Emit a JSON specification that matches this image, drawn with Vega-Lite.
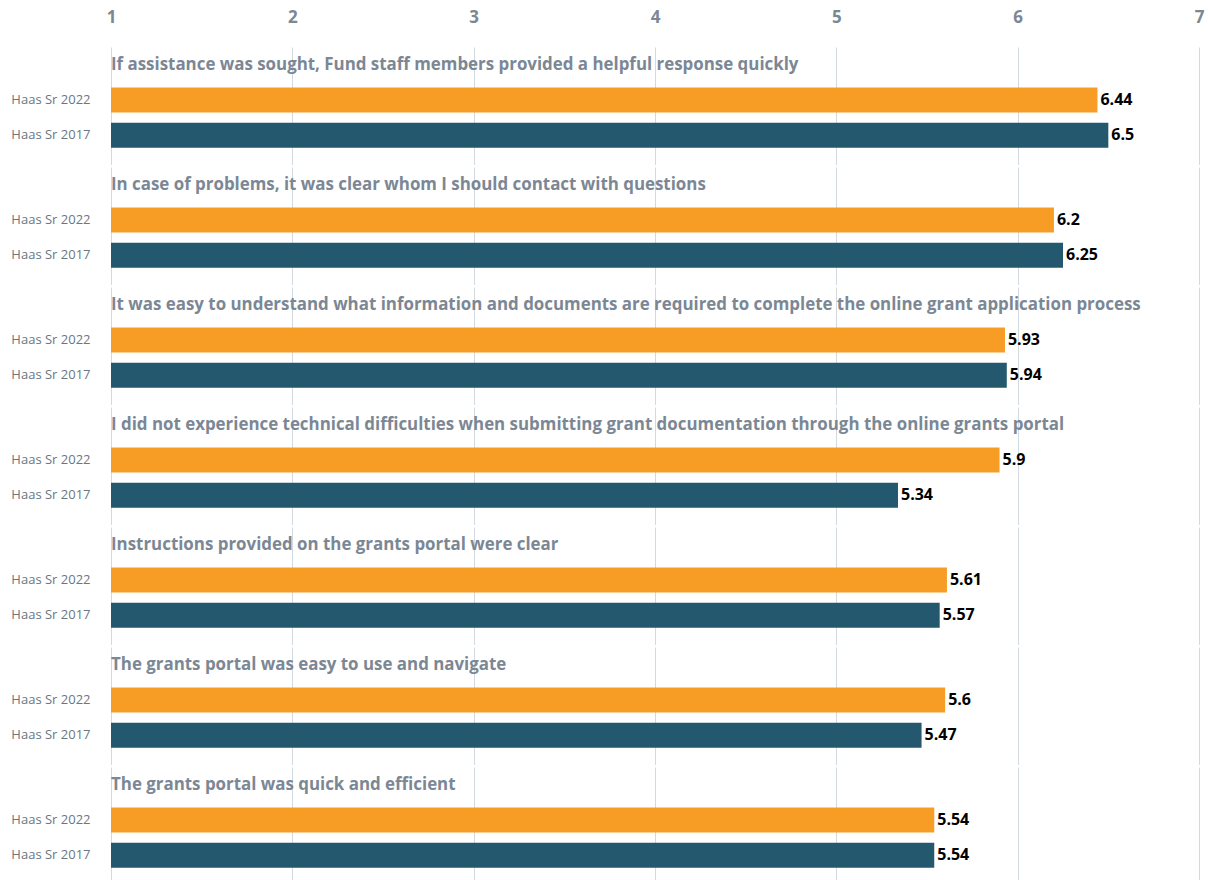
{
  "$schema": "https://vega.github.io/schema/vega-lite/v6.json",
  "padding": {"left": 10, "top": 8, "right": 5, "bottom": 0},
  "background": "white",
  "data": {
    "values": [
      {"order": 1, "question": "If assistance was sought, Fund staff members provided a helpful response quickly", "year": "Haas Sr 2022", "value": 6.44},
      {"order": 1, "question": "If assistance was sought, Fund staff members provided a helpful response quickly", "year": "Haas Sr 2017", "value": 6.5},
      {"order": 2, "question": "In case of problems, it was clear whom I should contact with questions", "year": "Haas Sr 2022", "value": 6.2},
      {"order": 2, "question": "In case of problems, it was clear whom I should contact with questions", "year": "Haas Sr 2017", "value": 6.25},
      {"order": 3, "question": "It was easy to understand what information and documents are required to complete the online grant application process", "year": "Haas Sr 2022", "value": 5.93},
      {"order": 3, "question": "It was easy to understand what information and documents are required to complete the online grant application process", "year": "Haas Sr 2017", "value": 5.94},
      {"order": 4, "question": "I did not experience technical difficulties when submitting grant documentation through the online grants portal", "year": "Haas Sr 2022", "value": 5.9},
      {"order": 4, "question": "I did not experience technical difficulties when submitting grant documentation through the online grants portal", "year": "Haas Sr 2017", "value": 5.34},
      {"order": 5, "question": "Instructions provided on the grants portal were clear", "year": "Haas Sr 2022", "value": 5.61},
      {"order": 5, "question": "Instructions provided on the grants portal were clear", "year": "Haas Sr 2017", "value": 5.57},
      {"order": 6, "question": "The grants portal was easy to use and navigate", "year": "Haas Sr 2022", "value": 5.6},
      {"order": 6, "question": "The grants portal was easy to use and navigate", "year": "Haas Sr 2017", "value": 5.47},
      {"order": 7, "question": "The grants portal was quick and efficient", "year": "Haas Sr 2022", "value": 5.54},
      {"order": 7, "question": "The grants portal was quick and efficient", "year": "Haas Sr 2017", "value": 5.54}
    ]
  },
  "facet": {
    "row": {"field": "order", "type": "ordinal", "sort": "ascending", "header": {"labels": false, "title": null}, "title": null}
  },
  "spacing": {"row": 2},
  "resolve": {"scale": {"y": "shared"}},
  "spec": {
    "width": 1088,
    "height": 117.5,
    "encoding": {
      "y": {
        "field": "year",
        "type": "nominal",
        "scale": {"domain": ["title", "Haas Sr 2022", "Haas Sr 2017"], "paddingInner": 0, "paddingOuter": 0.165, "align": 0},
        "axis": {
          "title": null,
          "domain": false,
          "ticks": false,
          "labelExpr": "datum.value == 'title' ? '' : datum.value",
          "labelFont": "Open Sans",
          "labelFontSize": 13,
          "labelColor": "#6b7682",
          "labelPadding": 21
        }
      }
    },
    "layer": [
      {
        "mark": {"type": "bar", "size": 25},
        "encoding": {
          "x": {
            "field": "value",
            "type": "quantitative",
            "scale": {"domain": [1, 7], "zero": false, "nice": false},
            "axis": {
              "orient": "top",
              "title": null,
              "values": [1, 2, 3, 4, 5, 6, 7],
              "format": "d",
              "domain": false,
              "ticks": false,
              "grid": true,
              "gridColor": "#d3d9e0",
              "gridWidth": 1,
              "labelFlush": false,
              "labelFont": "Open Sans",
              "labelFontSize": 17,
              "labelFontWeight": "bold",
              "labelColor": "#7b8794",
              "labelPadding": 21
            }
          },
          "x2": {"datum": 1},
          "color": {
            "field": "year",
            "type": "nominal",
            "scale": {"domain": ["Haas Sr 2022", "Haas Sr 2017"], "range": ["#f79d26", "#24586e"]},
            "legend": null
          }
        }
      },
      {
        "mark": {"type": "text", "align": "left", "baseline": "middle", "dx": 3, "font": "Open Sans", "fontSize": 16, "fontWeight": "bold", "color": "#000000"},
        "encoding": {
          "x": {"field": "value", "type": "quantitative"},
          "text": {"field": "value", "type": "quantitative"}
        }
      },
      {
        "transform": [{"filter": "datum.year == 'Haas Sr 2022'"}],
        "mark": {"type": "text", "align": "left", "baseline": "middle", "font": "Open Sans", "fontSize": 16.9, "fontWeight": "bold", "color": "#7b8794"},
        "encoding": {
          "x": {"datum": 1},
          "y": {"datum": "title"},
          "text": {"field": "question"}
        }
      }
    ]
  },
  "config": {"view": {"stroke": null}}
}
